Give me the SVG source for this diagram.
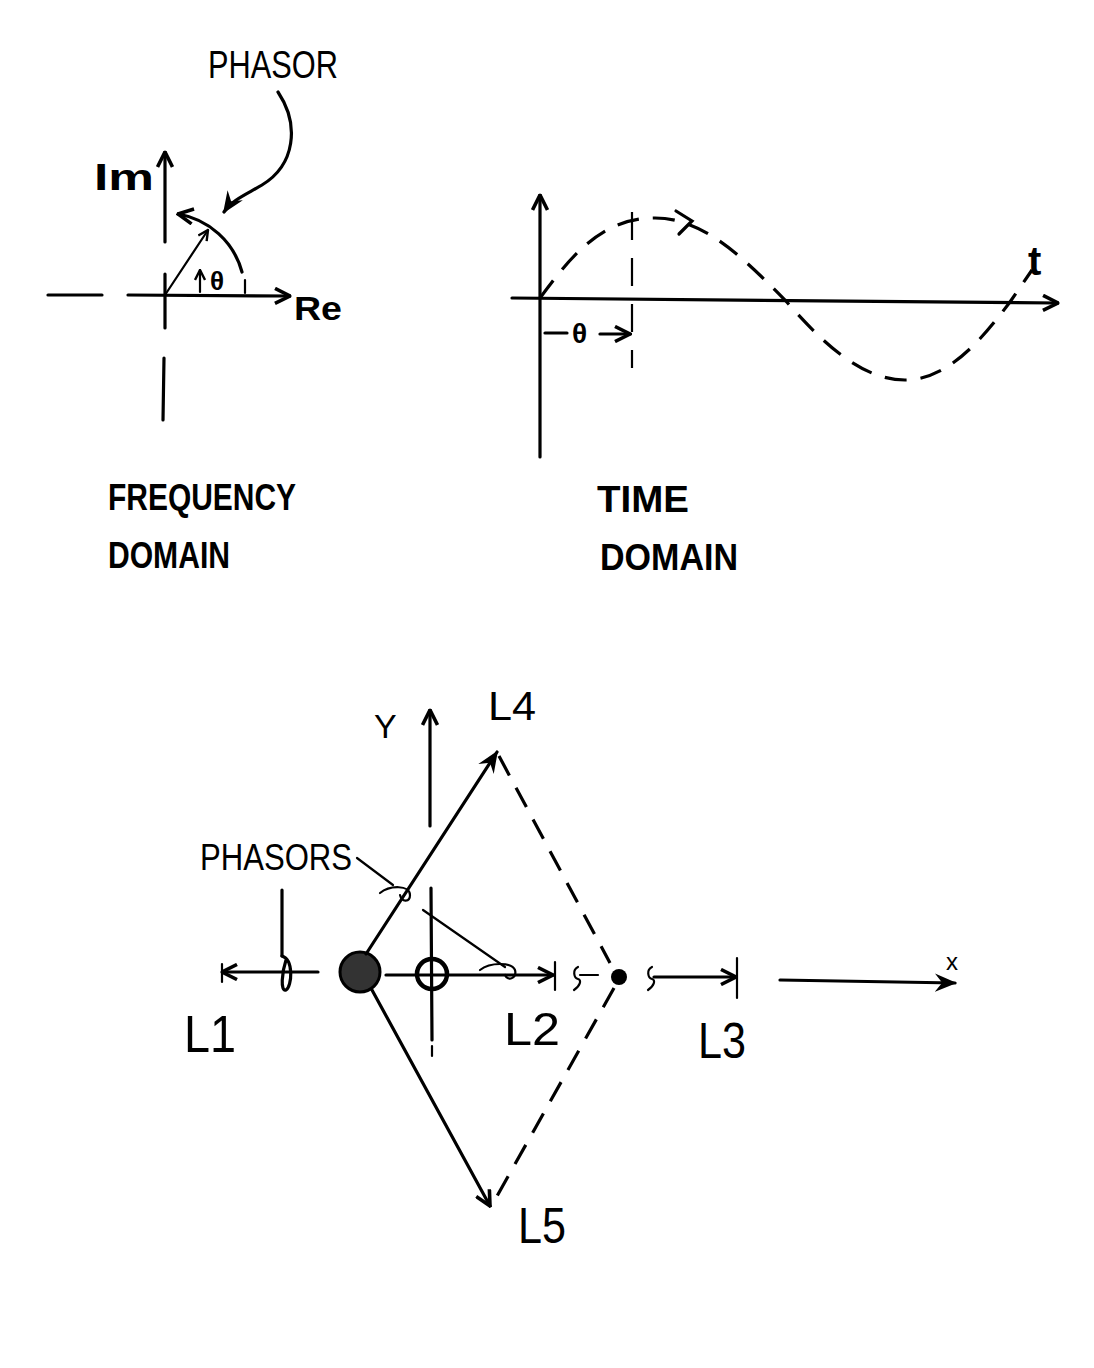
<svg xmlns="http://www.w3.org/2000/svg" width="1094" height="1368" viewBox="0 0 1094 1368">
<defs>
<marker id="ah" viewBox="0 0 12 12" refX="11" refY="6" markerWidth="18" markerHeight="18" markerUnits="userSpaceOnUse" orient="auto">
<path d="M1,1 L11,6 L1,11" fill="none" stroke="#000" stroke-width="2.4"/>
</marker>
<marker id="ahs" viewBox="0 0 12 12" refX="11" refY="6" markerWidth="12" markerHeight="12" markerUnits="userSpaceOnUse" orient="auto">
<path d="M1,1 L11,6 L1,11" fill="none" stroke="#000" stroke-width="2.4"/>
</marker>
<marker id="ahf" viewBox="0 0 12 12" refX="11" refY="6" markerWidth="22" markerHeight="22" markerUnits="userSpaceOnUse" orient="auto">
<path d="M0,1 L12,6 L0,11 L4,6 Z" fill="#000"/>
</marker>
</defs>
<style>
.ln{fill:none;stroke:#000;stroke-width:3.2;stroke-linecap:round}
.th{fill:none;stroke:#000;stroke-width:2.2;stroke-linecap:round}
.ds{fill:none;stroke:#000;stroke-width:3.2;stroke-dasharray:22 14}
.dt{fill:none;stroke:#000;stroke-width:2.2;stroke-dasharray:28 18}
.tx{font-family:"Liberation Sans",Arial,sans-serif;fill:#000}
.hb{font-weight:bold}
</style>
<rect width="1094" height="1368" fill="#fff"/>

<g id="frequency-domain">
<line class="ln" x1="165" y1="242" x2="165" y2="152" marker-end="url(#ah)"/>
<line class="ln" x1="165" y1="274" x2="165" y2="328"/>
<line class="ln" x1="164" y1="358" x2="163" y2="420"/>
<line class="ln" x1="48" y1="295" x2="102" y2="295"/>
<line class="ln" x1="128" y1="295" x2="290" y2="296" marker-end="url(#ah)"/>
<line class="th" x1="165" y1="295" x2="208" y2="230" marker-end="url(#ahs)"/>
<path class="ln" d="M242,272 A80,80 0 0 0 178,214" marker-end="url(#ah)"/>
<line class="th" x1="200" y1="292" x2="200" y2="270" marker-end="url(#ahs)"/>
<line class="th" x1="245" y1="280" x2="245" y2="293"/>
<text class="tx hb" x="210" y="290" font-size="26">θ</text>
<text class="tx hb" x="94" y="190" font-size="36" textLength="60" lengthAdjust="spacingAndGlyphs">Im</text>
<text class="tx hb" x="294" y="320" font-size="34" textLength="48" lengthAdjust="spacingAndGlyphs">Re</text>
<text class="tx" x="208" y="78" font-size="38" textLength="130" lengthAdjust="spacingAndGlyphs">PHASOR</text>
<path class="ln" d="M278,92 C300,125 295,165 262,185 C245,195 232,200 224,212" marker-end="url(#ahf)"/>
<text class="tx hb" x="108" y="510" font-size="36" textLength="188" lengthAdjust="spacingAndGlyphs">FREQUENCY</text>
<text class="tx hb" x="108" y="568" font-size="36" textLength="122" lengthAdjust="spacingAndGlyphs">DOMAIN</text>
</g>

<g id="time-domain">
<line class="ln" x1="540" y1="457" x2="540" y2="195" marker-end="url(#ah)"/>
<line class="ln" x1="512" y1="298" x2="1058" y2="303" marker-end="url(#ah)"/>
<path class="ds" d="M540,298 C575,250 605,218 655,218 C705,218 745,260 785,300 C820,340 860,380 905,380 C950,380 985,335 1010,302 L1032,270"/>
<path class="ln" d="M676,211 L692,221 L679,234"/>
<line class="dt" x1="632" y1="212" x2="632" y2="368"/>
<line class="ln" x1="545" y1="333" x2="567" y2="333"/>
<text class="tx hb" x="572" y="343" font-size="28">θ</text>
<line class="ln" x1="600" y1="334" x2="630" y2="334" marker-end="url(#ah)"/>
<text class="tx hb" x="1028" y="275" font-size="40">t</text>
<text class="tx hb" x="597" y="512" font-size="36" textLength="92" lengthAdjust="spacingAndGlyphs">TIME</text>
<text class="tx hb" x="600" y="570" font-size="36" textLength="138" lengthAdjust="spacingAndGlyphs">DOMAIN</text>
</g>

<g id="conductor-L">
<circle cx="360" cy="972" r="20" fill="#333" stroke="#000" stroke-width="3"/>
</g>
<g id="origin">
<circle cx="432" cy="974" r="15" fill="none" stroke="#000" stroke-width="4.5"/>
</g>
<g id="conductor-R">
<circle cx="619" cy="977" r="8" fill="#000"/>
</g>

<g id="connectors">
<line class="ln" x1="430" y1="826" x2="430" y2="710" marker-end="url(#ah)"/>
<line class="ln" x1="431" y1="888" x2="432" y2="1040"/>
<line class="th" x1="432" y1="1046" x2="432" y2="1056"/>
<line class="ln" x1="366" y1="954" x2="497" y2="752" marker-end="url(#ahf)"/>
<line class="ln" x1="372" y1="990" x2="490" y2="1206" marker-end="url(#ah)"/>
<line class="ds" x1="499" y1="756" x2="610" y2="963"/>
<line class="ds" x1="614" y1="988" x2="492" y2="1205"/>
<line class="ln" x1="318" y1="972" x2="222" y2="972" marker-end="url(#ah)"/>
<line class="th" x1="222" y1="964" x2="222" y2="982"/>
<line class="ln" x1="282" y1="890" x2="282" y2="956"/>
<path class="ln" d="M282,956 C294,960 292,986 286,990 C280,992 282,972 286,960"/>
<line class="ln" x1="386" y1="975" x2="553" y2="975" marker-end="url(#ah)"/>
<line class="th" x1="555" y1="962" x2="555" y2="990"/>
<path class="th" d="M578,967 C572,970 574,978 578,979 C582,980 580,986 574,990"/>
<line class="th" x1="580" y1="975" x2="598" y2="975"/>
<path class="th" d="M652,967 C646,970 648,978 652,979 C656,980 654,986 648,990"/>
<line class="ln" x1="654" y1="977" x2="736" y2="977" marker-end="url(#ah)"/>
<line class="th" x1="737" y1="958" x2="737" y2="998"/>
<line class="ln" x1="780" y1="980" x2="955" y2="983" marker-end="url(#ahf)"/>
<line class="th" x1="357" y1="858" x2="393" y2="885"/>
<path class="th" d="M380,893 C390,885 410,885 410,895 C410,902 402,903 400,895"/>
<line class="th" x1="423" y1="910" x2="505" y2="967"/>
<path class="th" d="M480,970 C490,962 512,962 515,970 C517,978 508,982 505,975"/>
</g>

<g id="labels">
<text class="tx" x="200" y="870" font-size="36" textLength="152" lengthAdjust="spacingAndGlyphs">PHASORS</text>
<text class="tx" x="374" y="738" font-size="34">Y</text>
<text class="tx" x="488" y="720" font-size="40" textLength="48" lengthAdjust="spacingAndGlyphs">L4</text>
<text class="tx" x="184" y="1052" font-size="52" textLength="52" lengthAdjust="spacingAndGlyphs">L1</text>
<text class="tx" x="504" y="1045" font-size="46" textLength="56" lengthAdjust="spacingAndGlyphs">L2</text>
<text class="tx" x="698" y="1058" font-size="50" textLength="48" lengthAdjust="spacingAndGlyphs">L3</text>
<text class="tx" x="518" y="1243" font-size="50" textLength="48" lengthAdjust="spacingAndGlyphs">L5</text>
<text class="tx" x="946" y="970" font-size="24">x</text>
</g>
</svg>
